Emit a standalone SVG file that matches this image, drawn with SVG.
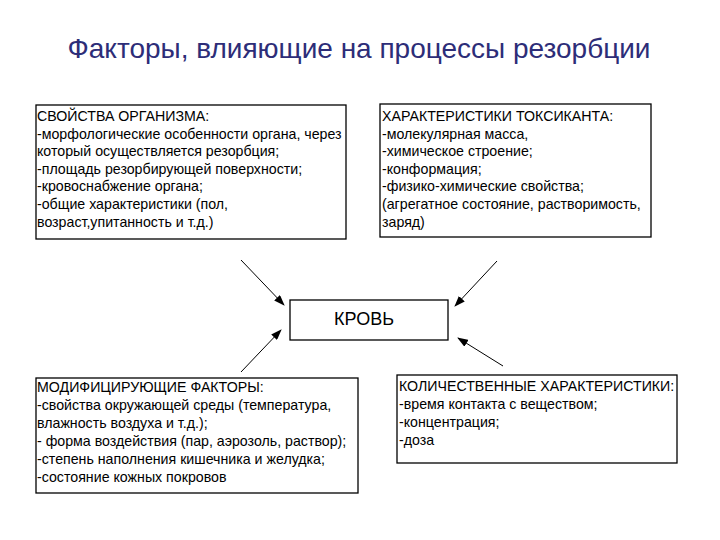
<svg xmlns="http://www.w3.org/2000/svg" width="720" height="540" viewBox="0 0 720 540">
<style>
.box{fill:#fff;stroke:#000;stroke-width:1.3}
.t{font-family:"Liberation Sans",Arial,sans-serif;font-size:14.2px;fill:#000}
.title{font-family:"Liberation Sans",Arial,sans-serif;font-size:28px;fill:#2d2d78}
.c{stroke:#000;stroke-width:1;fill:none;marker-end:url(#ah)}
</style>
<defs>
<marker id="ah" markerWidth="11" markerHeight="8" refX="10" refY="4" orient="auto" markerUnits="userSpaceOnUse">
<path d="M0,0 L11,4 L0,8 Z" fill="#000"/>
</marker>
</defs>
<rect width="720" height="540" fill="#fff"/>
<text class="title" x="359" y="58" text-anchor="middle">Факторы, влияющие на процессы резорбции</text>
<g id="conn">
<line class="c" x1="241" y1="260" x2="284" y2="305"/>
<line class="c" x1="497" y1="261" x2="455" y2="306"/>
<line class="c" x1="241" y1="372" x2="281" y2="330"/>
<line class="c" x1="503" y1="366" x2="458" y2="338"/>
</g>
<g id="organism">
<rect class="box" x="36" y="105" width="310" height="134"/>
<text class="t" x="37" y="121">СВОЙСТВА ОРГАНИЗМА:</text>
<text class="t" x="37" y="139">-морфологические особенности органа, через</text>
<text class="t" x="37" y="156">который осуществляется резорбция;</text>
<text class="t" x="37" y="174">-площадь резорбирующей поверхности;</text>
<text class="t" x="37" y="191">-кровоснабжение органа;</text>
<text class="t" x="37" y="209">-общие характеристики (пол,</text>
<text class="t" x="37" y="227">возраст,упитанность и т.д.)</text>
</g>
<g id="toxicant">
<rect class="box" x="380" y="104" width="271" height="133"/>
<text class="t" x="382" y="121">ХАРАКТЕРИСТИКИ ТОКСИКАНТА:</text>
<text class="t" x="382" y="139">-молекулярная масса,</text>
<text class="t" x="382" y="156">-химическое строение;</text>
<text class="t" x="382" y="174">-конформация;</text>
<text class="t" x="382" y="191">-физико-химические свойства;</text>
<text class="t" x="382" y="209">(агрегатное состояние, растворимость,</text>
<text class="t" x="382" y="227">заряд)</text>
</g>
<g id="blood">
<rect class="box" x="290" y="300" width="158" height="40"/>
<text class="t" x="364" y="325" text-anchor="middle" style="font-size:18px">КРОВЬ</text>
</g>
<g id="modifying">
<rect class="box" x="36" y="378" width="322" height="115"/>
<text class="t" x="37" y="392">МОДИФИЦИРУЮЩИЕ ФАКТОРЫ:</text>
<text class="t" x="37" y="410">-свойства окружающей среды (температура,</text>
<text class="t" x="37" y="428">влажность воздуха и т.д.);</text>
<text class="t" x="37" y="446">- форма воздействия (пар, аэрозоль, раствор);</text>
<text class="t" x="37" y="464">-степень наполнения кишечника и желудка;</text>
<text class="t" x="37" y="482">-состояние кожных покровов</text>
</g>
<g id="quantitative">
<rect class="box" x="397" y="375" width="280" height="88"/>
<text class="t" x="399" y="391">КОЛИЧЕСТВЕННЫЕ ХАРАКТЕРИСТИКИ:</text>
<text class="t" x="399" y="409">-время контакта с веществом;</text>
<text class="t" x="399" y="427">-концентрация;</text>
<text class="t" x="399" y="445">-доза</text>
</g>
</svg>
